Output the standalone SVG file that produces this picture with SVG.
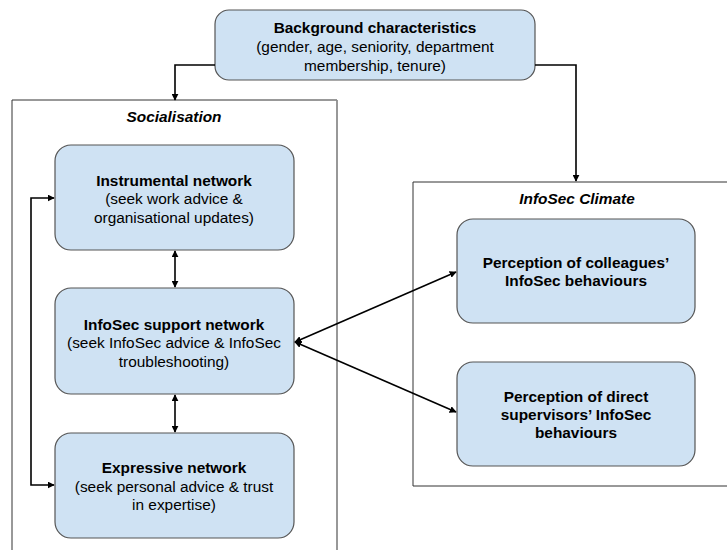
<svg xmlns="http://www.w3.org/2000/svg" width="727" height="550" viewBox="0 0 727 550">
<style>
.node{fill:#cfe2f3;stroke:#555;stroke-width:1.2}
text{font-family:"Liberation Sans",Arial,sans-serif;font-size:15.4px;fill:#000;text-anchor:middle}
.b{font-weight:bold}
.t{font-weight:bold;font-style:italic}
.c{fill:none;stroke:#000;stroke-width:1.6}
</style>
<defs>
<marker id="ah" viewBox="0 0 10 10" refX="9" refY="5" markerWidth="7" markerHeight="7" orient="auto-start-reverse" markerUnits="userSpaceOnUse">
<path d="M0,0 L10,5 L0,10 z" fill="#000"/>
</marker>
</defs>
<rect width="727" height="550" fill="#fff"/>
<g id="socialisation">
<path d="M12,550 V100 H337 V550" fill="#fff" stroke="#333" stroke-width="1"/>
<line x1="337" y1="100" x2="337" y2="550" stroke="#999" stroke-width="1.5"/>
<text class="t" x="174" y="122">Socialisation</text>
</g>
<g id="infosec-climate">
<path d="M727,182 H413 V486 H727" fill="#fff" stroke="#333" stroke-width="1"/>
<text class="t" x="577" y="204">InfoSec Climate</text>
</g>
<g id="background">
<rect class="node" x="215" y="10" width="320" height="70" rx="14"/>
<text class="b" x="375" y="33">Background characteristics</text>
<text x="375" y="52">(gender, age, seniority, department</text>
<text x="375" y="71">membership, tenure)</text>
</g>
<g id="instrumental">
<rect class="node" x="55" y="145" width="239" height="105" rx="16"/>
<text class="b" x="174" y="186">Instrumental network</text>
<text x="174" y="204">(seek work advice &amp;</text>
<text x="174" y="223">organisational updates)</text>
</g>
<g id="support">
<rect class="node" x="55" y="288" width="239" height="106" rx="16"/>
<text class="b" x="174" y="330">InfoSec support network</text>
<text x="174" y="348">(seek InfoSec advice &amp; InfoSec</text>
<text x="174" y="367">troubleshooting)</text>
</g>
<g id="expressive">
<rect class="node" x="55" y="433" width="239" height="105" rx="16"/>
<text class="b" x="174" y="473">Expressive network</text>
<text x="174" y="492">(seek personal advice &amp; trust</text>
<text x="174" y="510">in expertise)</text>
</g>
<g id="colleagues">
<rect class="node" x="457" y="219" width="238" height="104" rx="16"/>
<text class="b" x="576" y="268">Perception of colleagues’</text>
<text class="b" x="576" y="286">InfoSec behaviours</text>
</g>
<g id="supervisors">
<rect class="node" x="457" y="362" width="238" height="104" rx="16"/>
<text class="b" x="576" y="402">Perception of direct</text>
<text class="b" x="576" y="420">supervisors’ InfoSec</text>
<text class="b" x="576" y="438">behaviours</text>
</g>
<g id="connectors">
<path class="c" d="M215,65 H175 V100" marker-end="url(#ah)"/>
<path class="c" d="M535,65 H576 V181" marker-end="url(#ah)"/>
<path class="c" d="M175,251 V287" marker-start="url(#ah)" marker-end="url(#ah)"/>
<path class="c" d="M175,395 V432" marker-start="url(#ah)" marker-end="url(#ah)"/>
<path class="c" d="M54,198 H31 V485 H54" marker-start="url(#ah)" marker-end="url(#ah)"/>
<path class="c" d="M295,342 L456,272" marker-start="url(#ah)" marker-end="url(#ah)"/>
<path class="c" d="M295,342 L456,412" marker-start="url(#ah)" marker-end="url(#ah)"/>
</g>
</svg>
